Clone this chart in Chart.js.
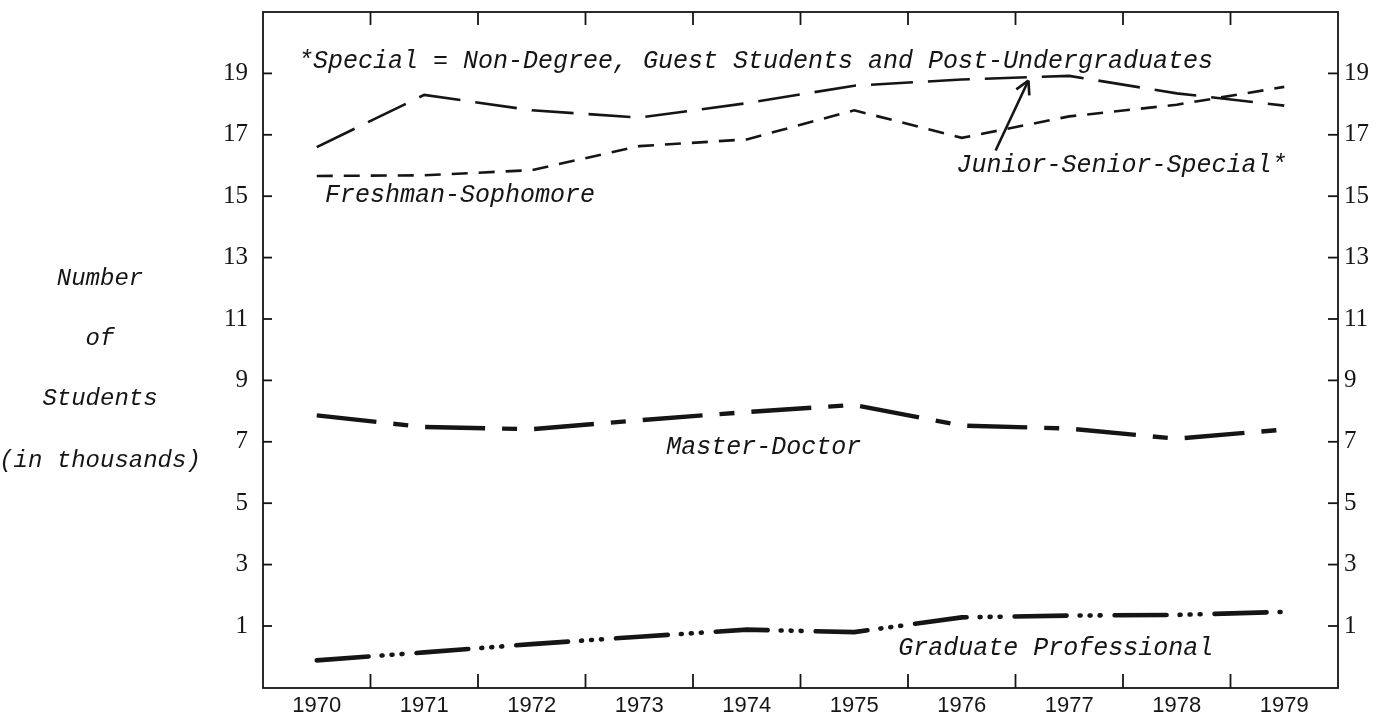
<!DOCTYPE html>
<html>
<head>
<meta charset="utf-8">
<script src="https://cdn.jsdelivr.net/npm/chart.js@4.4.1/dist/chart.umd.min.js"></script>
<style>
  html, body { margin: 0; padding: 0; background: #fff; }
  #wrap { width: 1390px; height: 720px; }
</style>
</head>
<body>
<div id="wrap"><canvas id="myChart" width="1390" height="720"></canvas></div>
<script>
// enrollment, thousands of students
const years = ['1970', '1971', '1972', '1973', '1974', '1975', '1976', '1977', '1978', '1979'];
const juniorSeniorSpecial = [16.6, 18.3, 17.8, 17.56, 18.03, 18.6, 18.8, 18.92, 18.35, 17.95];
const freshmanSophomore = [15.66, 15.68, 15.85, 16.63, 16.85, 17.8, 16.9, 17.6, 17.98, 18.56];
const masterDoctor = [7.86, 7.48, 7.41, 7.7, 7.97, 8.2, 7.53, 7.43, 7.1, 7.4];
const graduateProfessional = [-0.12, 0.14, 0.41, 0.65, 0.88, 0.8, 1.28, 1.34, 1.36, 1.46];
const yTickValues = [1, 3, 5, 7, 9, 11, 13, 15, 17, 19];

const yTitleLines = ['Number', 'of', 'Students', '(in thousands)'];
const yTitleAt = [12.3, 10.35, 8.4, 6.4];

const ink = '#151515';
const typeFont = '"Liberation Mono", "DejaVu Sans Mono", monospace';

// labels written on the chart, anchored in data space (x = category index, y = value)
const notes = [
  { text: '*Special = Non-Degree, Guest Students and Post-Undergraduates', x: -0.175, y: 19.39 },
  { text: 'Freshman-Sophomore', x: 0.076, y: 15.03 },
  { text: 'Junior-Senior-Special*', x: 5.95, y: 16.0 },
  { text: 'Master-Doctor', x: 3.25, y: 6.83 },
  { text: 'Graduate Professional', x: 5.41, y: 0.27 }
];
const arrowFrom = { x: 6.315, y: 16.49 };
const arrowTo = { x: 6.62, y: 18.77 };

const framePlugin = {
  id: 'frame',
  afterDraw(chart) {
    const { ctx, chartArea: a, scales } = chart;
    const xs = scales.x, ys = scales.y;
    const seg = (x1, y1, x2, y2) => { ctx.beginPath(); ctx.moveTo(x1, y1); ctx.lineTo(x2, y2); ctx.stroke(); };

    ctx.save();
    ctx.strokeStyle = ink;
    ctx.lineWidth = 1.8;
    ctx.strokeRect(a.left, a.top, a.right - a.left, a.bottom - a.top);

    // tick marks between the years, top and bottom
    for (let i = 1; i < years.length; i++) {
      const px = (xs.getPixelForValue(i - 1) + xs.getPixelForValue(i)) / 2;
      seg(px, a.bottom, px, a.bottom - 14);
      seg(px, a.top, px, a.top + 13);
    }
    // tick marks on both value axes
    yTickValues.forEach(v => {
      const py = ys.getPixelForValue(v);
      seg(a.left, py, a.left + 9, py);
      seg(a.right, py, a.right - 10, py);
    });

    // axis title, one word per row
    ctx.fillStyle = ink;
    ctx.font = 'italic 24px ' + typeFont;
    ctx.textAlign = 'center';
    ctx.textBaseline = 'middle';
    yTitleLines.forEach((t, i) => ctx.fillText(t, 100, ys.getPixelForValue(yTitleAt[i])));

    // series notes
    ctx.font = 'italic 25px ' + typeFont;
    ctx.textAlign = 'left';
    notes.forEach(n => ctx.fillText(n.text, xs.getPixelForValue(n.x), ys.getPixelForValue(n.y)));

    // arrow to the junior-senior line
    const x1 = xs.getPixelForValue(arrowFrom.x), y1 = ys.getPixelForValue(arrowFrom.y);
    const x2 = xs.getPixelForValue(arrowTo.x), y2 = ys.getPixelForValue(arrowTo.y);
    ctx.lineWidth = 2.6;
    seg(x1, y1, x2, y2);
    const ang = Math.atan2(y2 - y1, x2 - x1);
    const head = 15;
    seg(x2, y2, x2 - head * Math.cos(ang - 0.5), y2 - head * Math.sin(ang - 0.5));
    seg(x2, y2, x2 - head * Math.cos(ang + 0.5), y2 - head * Math.sin(ang + 0.5));
    ctx.restore();
  }
};

const yAxisBase = {
  min: -1.02,
  max: 21,
  afterBuildTicks: s => { s.ticks = yTickValues.map(v => ({ value: v })); },
  grid: { display: false, drawTicks: false },
  border: { display: false }
};

const ctx = document.getElementById('myChart').getContext('2d');
new Chart(ctx, {
  type: 'line',
  data: {
    labels: years,
    datasets: [
      { label: 'Junior-Senior-Special*', data: juniorSeniorSpecial, borderWidth: 2.6, borderDash: [42, 15] },
      { label: 'Freshman-Sophomore', data: freshmanSophomore, borderWidth: 2.6, borderDash: [16, 11] },
      { label: 'Master-Doctor', data: masterDoctor, borderWidth: 4.4, borderDash: [60, 17, 15, 17] },
      { label: 'Graduate Professional', data: graduateProfessional, borderWidth: 4.6, borderCapStyle: 'round',
        borderDash: [52, 13, 1, 9, 1, 9, 1, 14] }
    ]
  },
  options: {
    responsive: false,
    animation: false,
    layout: { padding: { top: 12, left: 0, right: 0, bottom: 0 } },
    plugins: { legend: { display: false }, tooltip: { enabled: false } },
    elements: {
      point: { radius: 0 },
      line: { tension: 0, borderColor: ink, fill: false }
    },
    scales: {
      x: {
        type: 'category',
        offset: true,
        grid: { display: false, drawTicks: false },
        border: { display: false },
        ticks: { color: ink, font: { family: '"Liberation Sans", sans-serif', size: 22 }, padding: 5, maxRotation: 0, autoSkip: false },
        afterFit: s => { s.height = 32; s.paddingLeft = 0; s.paddingRight = 0; }
      },
      y: {
        ...yAxisBase,
        position: 'left',
        ticks: { color: ink, font: { family: '"Liberation Serif", serif', size: 25 }, padding: 15 },
        afterFit: s => { s.width = 263; s.paddingTop = 0; s.paddingBottom = 0; }
      },
      y2: {
        ...yAxisBase,
        position: 'right',
        ticks: { color: ink, font: { family: '"Liberation Serif", serif', size: 25 }, padding: 6 },
        afterFit: s => { s.width = 52; s.paddingTop = 0; s.paddingBottom = 0; }
      }
    }
  },
  plugins: [framePlugin]
});
</script>
</body>
</html>
